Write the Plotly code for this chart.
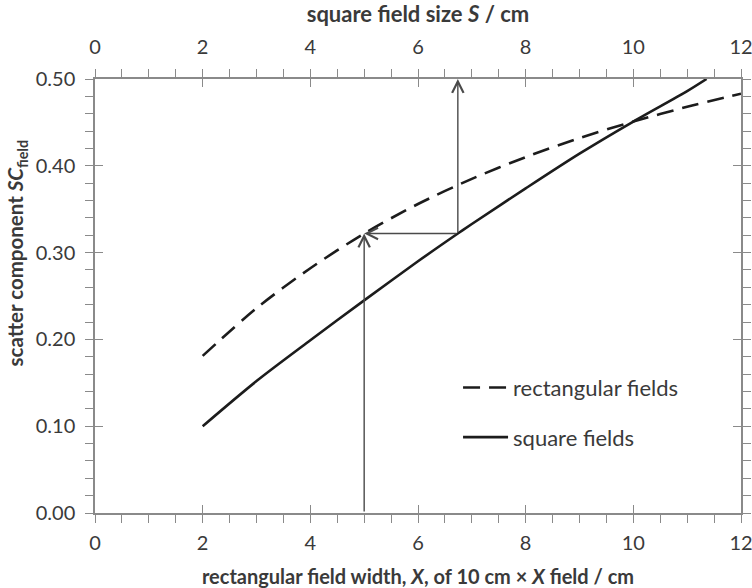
import plotly.graph_objects as go

# Scatter component versus field width
x_rect = [2, 3, 4, 5, 6, 7, 8, 9, 10, 11, 12]
sc_rect = [0.181, 0.236, 0.282, 0.322, 0.356, 0.385, 0.410, 0.432, 0.451, 0.468, 0.483]

x_square = [2, 3, 4, 5, 6, 6.74, 7, 8, 9, 10, 11, 11.36]
sc_square = [0.100, 0.152, 0.199, 0.245, 0.290, 0.322, 0.333, 0.374, 0.414, 0.451, 0.486, 0.500]

# Worked example: 10 cm x 5 cm field -> equivalent square S
example_x = 5.0
example_sc = 0.322
example_s = 6.74
sc_top = 0.50

x_ticks = [0, 2, 4, 6, 8, 10, 12]
y_ticks = [0.0, 0.1, 0.2, 0.3, 0.4, 0.5]

FONT = "Lato"
AX_COL = "#8a8a8a"
TXT_COL = "#3a3a3a"
LINE_COL = "#1c1c1c"

fig = go.Figure()

fig.add_trace(go.Scatter(
    x=x_rect, y=sc_rect, mode="lines", name="rectangular fields",
    line=dict(color=LINE_COL, width=2.6, dash="17px,9px", shape="spline", smoothing=0.8),
    legendgroup="a"))
fig.add_trace(go.Scatter(
    x=x_square, y=sc_square, mode="lines", name="square fields",
    line=dict(color=LINE_COL, width=2.6, shape="spline", smoothing=0.8), legendgroup="b"))

# empty traces so the overlay axes (inward major ticks, top labels) are drawn
fig.add_trace(go.Scatter(x=[], y=[], xaxis="x2", yaxis="y", showlegend=False, hoverinfo="skip"))
fig.add_trace(go.Scatter(x=[], y=[], xaxis="x", yaxis="y2", showlegend=False, hoverinfo="skip"))

tickfont = dict(family=FONT, size=20, color=TXT_COL)

fig.update_layout(
    width=752, height=588,
    margin=dict(l=95, r=11, t=79, b=75),
    paper_bgcolor="white", plot_bgcolor="white",
    font=dict(family=FONT, color=TXT_COL),
    showlegend=True,
    legend=dict(x=0.562, y=0.337, xanchor="left", yanchor="top",
                bgcolor="rgba(0,0,0,0)", font=dict(family=FONT, size=22, color=TXT_COL),
                traceorder="grouped", tracegroupgap=18, itemwidth=45),
    xaxis=dict(
        range=[0, 12], tickvals=x_ticks, ticks="outside", ticklen=8, tickwidth=1.3,
        tickcolor=AX_COL, showline=True, linecolor=AX_COL, linewidth=1.5,
        mirror="allticks", showgrid=False, zeroline=False, tickfont=tickfont,
        ticklabelstandoff=3, automargin=False, ticklabeloverflow="allow",
        minor=dict(dtick=0.5, ticks="outside", ticklen=5, tickwidth=1.2, tickcolor=AX_COL, showgrid=False),
        title=dict(text="<b>rectangular field width, <i>X</i>, of 10 cm × <i>X</i> field / cm</b>",
                   font=dict(family=FONT, size=20, color=TXT_COL), standoff=18),
    ),
    xaxis2=dict(
        range=[0, 12], tickvals=x_ticks, overlaying="x", side="top", anchor="y",
        ticks="inside", ticklen=8, tickwidth=1.3, tickcolor=AX_COL, mirror="ticks",
        showline=False, showgrid=False, zeroline=False, tickfont=tickfont,
        ticklabelstandoff=20, automargin=False, ticklabeloverflow="allow",
        title=dict(text="<b>square field size <i>S</i> / cm</b>",
                   font=dict(family=FONT, size=22, color=TXT_COL), standoff=8),
    ),
    yaxis=dict(
        range=[0, 0.5], tickvals=y_ticks, tickformat=".2f", ticks="outside", ticklen=8,
        tickwidth=1.3, tickcolor=AX_COL, showline=True, linecolor=AX_COL, linewidth=1.5,
        mirror="allticks", showgrid=False, zeroline=False, tickfont=tickfont,
        ticklabelstandoff=6, automargin=False, ticklabeloverflow="allow",
        minor=dict(dtick=0.02, ticks="outside", ticklen=5, tickwidth=1.2, tickcolor=AX_COL, showgrid=False),
    ),
    yaxis2=dict(
        range=[0, 0.5], tickvals=y_ticks, overlaying="y", side="left", anchor="x",
        ticks="inside", ticklen=8, tickwidth=1.3, tickcolor=AX_COL, mirror="ticks",
        showticklabels=False, showline=False, showgrid=False, zeroline=False, automargin=False,
    ),
)

# y-axis title
fig.add_annotation(
    text="<b>scatter component <i>SC</i><sub>field</sub></b>", textangle=-90,
    xref="paper", yref="paper", x=-0.121, y=0.60, xanchor="center", yanchor="middle",
    showarrow=False, font=dict(family=FONT, size=20.5, color=TXT_COL))

# reading arrows: up to the rectangular curve, across to the square curve, up to the S axis
arrows = [
    ((example_x, 0.0), (example_x, example_sc)),
    ((example_s, example_sc), (example_x, example_sc)),
    ((example_s, example_sc), (example_s, sc_top)),
]
for (x0, y0), (x1, y1) in arrows:
    fig.add_annotation(
        x=x1, y=y1, ax=x0, ay=y0, xref="x", yref="y", axref="x", ayref="y",
        showarrow=True, arrowhead=5, arrowsize=1.6, arrowwidth=1.4, arrowcolor="#4a4a4a",
        text="")

fig.write_html("out.html")
